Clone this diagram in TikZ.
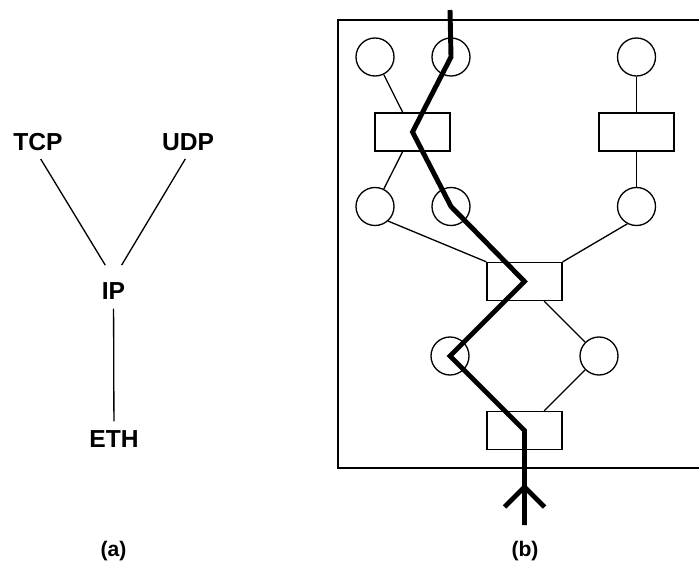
\documentclass[tikz,border=0pt]{standalone}
\usepackage{fontspec}
\setmainfont{Liberation Sans}
\usepackage{tikz}
\usetikzlibrary{shapes,arrows,positioning,calc}

\tikzset{
    proto/.style={font=\bfseries\fontsize{14}{16}\selectfont,inner sep=2pt},
    caption/.style={font=\bfseries\fontsize{12}{14}\selectfont},
    port/.style={circle,draw,line width=0.75pt,minimum size=0.76cm,inner sep=0pt},
    module/.style={draw,line width=0.75pt,minimum width=1.5cm,minimum height=0.76cm,inner sep=0pt},
    wire/.style={line width=0.75pt},
    flow/.style={line width=2.8pt}
}

\begin{document}
\begin{tikzpicture}
\useasboundingbox (0,0) rectangle (13.98,-11.38);

% (a) protocol graph
\node[proto] (tcp) at (0.76,-2.84) {TCP};
\node[proto] (udp) at (3.76,-2.84) {UDP};
\node[proto] (ip)  at (2.27,-5.82) {IP};
\node[proto] (eth) at (2.28,-8.78) {ETH};

\draw[wire,shorten <=3pt,shorten >=9pt] (tcp.south) -- (ip.north);
\draw[wire,shorten <=3pt,shorten >=9pt] (udp.south) -- (ip.north);
\draw[wire,shorten <=3pt,shorten >=3pt] (ip) -- (eth);

\node[caption] (capa) at (2.27,-11.02) {(a)};

% (b) session graph
\draw[wire] (6.76,-0.40) rectangle (14.02,-9.36);

\foreach \n/\x/\y in {
    c11/7.50/-1.14, c12/9.02/-1.14, c13/12.73/-1.14,
    c21/7.50/-4.13, c22/9.02/-4.13, c23/12.73/-4.13,
    c31/9.00/-7.12, c32/11.98/-7.12
} {
    \node[port] (\n) at (\x,\y) {};
}

\node[module] (r1) at (8.25,-2.64) {};
\node[module] (r2) at (12.73,-2.64) {};
\node[module] (r3) at (10.49,-5.63) {};
\node[module] (r4) at (10.49,-8.61) {};

\draw[wire] (c11) -- (r1);
\draw[wire] (r1) -- (c21);
\draw[wire] (c13) -- (r2);
\draw[wire] (r2) -- (c23);
\draw[wire] (c21.-48) -- (r3.north west);
\draw[wire] (c23.-118) -- (r3.north east);
\draw[wire] (r3) -- (c32);
\draw[wire] (c32) -- (r4);

% message path
\coordinate (in)  at (9.00,-0.20);
\coordinate (out) at (10.49,-10.50);
\coordinate (tip) at (10.49,-9.74);

\draw[flow] (in) -- (c12.center) -- (r1.center) -- (c22.center)
    -- (r3.center) -- (c31.center) -- (r4.center) -- (out);
\draw[flow] (tip) ++(-0.40,-0.40) -- (tip) -- ++(0.40,-0.40);

\node[caption] (capb) at (10.50,-11.02) {(b)};
\end{tikzpicture}
\end{document}
